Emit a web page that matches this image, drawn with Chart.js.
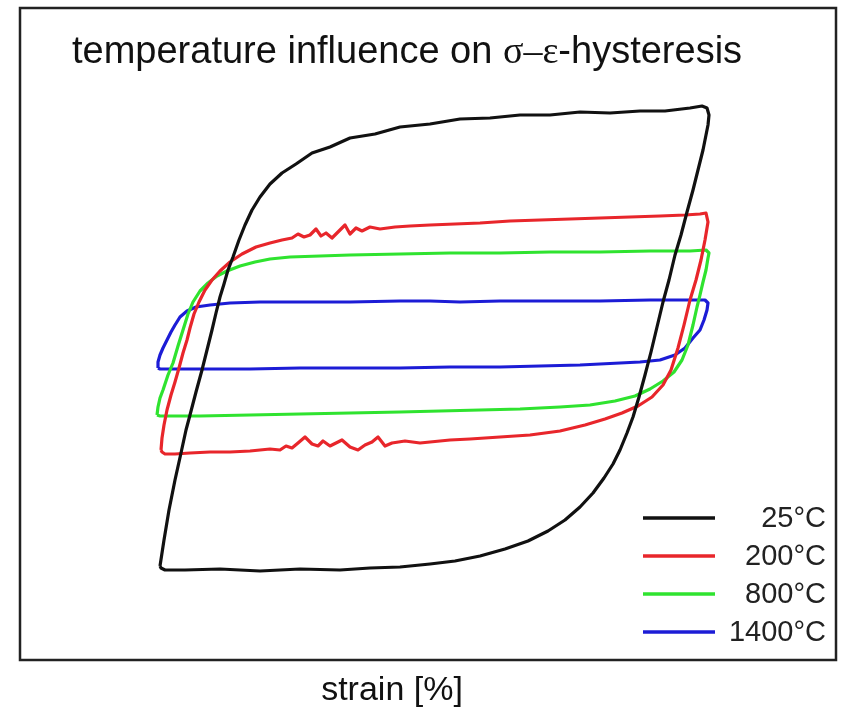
<!DOCTYPE html>
<html>
<head>
<meta charset="utf-8">
<script src="https://cdn.jsdelivr.net/npm/chart.js@4.4.1/dist/chart.umd.min.js"></script>
<style>
  html, body { margin: 0; padding: 0; background: #fff; }
  canvas { display: block; }
</style>
</head>
<body>
<canvas id="hysteresisChart" width="847" height="711"></canvas>
<script>
// series labels and colours
const temperatures = ['25°C', '200°C', '800°C', '1400°C'];
const colors = ['#111111', '#e8262b', '#2fe32f', '#1c1cd6'];

// strain [%] / stress [MPa], each loop in drawing order
const strain25 = [-0.536, -0.528, -0.518, -0.506, -0.494, -0.484, -0.476, -0.464, -0.452, -0.442, -0.432, -0.424, -0.416, -0.408, -0.400, -0.390, -0.378, -0.366, -0.352, -0.336, -0.316, -0.292, -0.264, -0.232, -0.196, -0.156, -0.106, -0.056, 0.004, 0.064, 0.124, 0.184, 0.244, 0.304, 0.364, 0.424, 0.474, 0.524, 0.548, 0.558, 0.562,
  0.560, 0.550, 0.540, 0.530, 0.518, 0.506, 0.494, 0.482, 0.470, 0.458, 0.446, 0.434, 0.422, 0.410, 0.398, 0.384, 0.370, 0.352, 0.330, 0.304, 0.274, 0.240, 0.200, 0.154, 0.104, 0.054, 0.004, -0.056, -0.116, -0.176, -0.256, -0.336, -0.416, -0.486, -0.526, -0.534, -0.536];
const stress25 = [-232, -206, -176, -146, -119, -96, -81, -58, -36, -16, 4, 21, 37, 50, 64, 77, 94, 109, 124, 137, 150, 161, 170, 181, 187, 196, 200, 207, 210, 215, 216, 219, 219, 222, 221, 223, 223, 226, 228, 226, 219,
  209, 184, 164, 144, 122, 99, 79, 54, 32, 7, -18, -41, -63, -83, -99, -116, -130, -144, -159, -173, -186, -197, -207, -215, -222, -227, -230, -233, -234, -236, -235, -237, -235, -236, -236, -234, -232];

const strain200 = [-0.534, -0.532, -0.528, -0.522, -0.514, -0.506, -0.498, -0.490, -0.482, -0.476, -0.468, -0.458, -0.446, -0.432, -0.416, -0.396, -0.372, -0.344, -0.316, -0.292, -0.272, -0.260, -0.248, -0.236, -0.224, -0.214, -0.204, -0.192, -0.180, -0.166, -0.156, -0.144, -0.132, -0.116, -0.096, -0.066, -0.036, 0.004, 0.054, 0.104, 0.164, 0.224, 0.284, 0.344, 0.404, 0.464, 0.514, 0.544, 0.556,
  0.560, 0.554, 0.546, 0.536, 0.524, 0.512, 0.500, 0.486, 0.470, 0.448, 0.420, 0.388, 0.354, 0.314, 0.264, 0.204, 0.144, 0.084, 0.044, 0.004, -0.016, -0.046, -0.072, -0.086, -0.100, -0.112, -0.126, -0.140, -0.156, -0.172, -0.184, -0.196, -0.210, -0.220, -0.232, -0.246, -0.260, -0.272, -0.284, -0.296, -0.316, -0.356, -0.396, -0.436, -0.476, -0.506, -0.526, -0.532, -0.534];
const stress200 = [-116, -104, -91, -76, -61, -48, -34, -19, -6, 6, 20, 32, 44, 54, 63, 72, 80, 87, 91, 94, 96, 100, 97, 99, 105, 98, 101, 96, 102, 109, 100, 106, 103, 107, 105, 107, 108, 109, 110, 111, 113, 114, 115, 116, 117, 118, 119, 120, 121,
  112, 94, 74, 54, 34, 9, -14, -36, -51, -63, -72, -79, -85, -91, -97, -101, -103, -105, -106, -108, -109, -107, -109, -112, -103, -108, -111, -116, -113, -106, -109, -112, -107, -112, -110, -103, -109, -114, -112, -116, -115, -117, -118, -118, -119, -120, -120, -118, -116];

const strain800 = [-0.542, -0.540, -0.536, -0.530, -0.520, -0.510, -0.500, -0.490, -0.480, -0.470, -0.456, -0.440, -0.422, -0.402, -0.376, -0.346, -0.316, -0.276, -0.216, -0.156, -0.056, 0.044, 0.144, 0.244, 0.344, 0.444, 0.524, 0.556, 0.562,
  0.560, 0.556, 0.550, 0.544, 0.538, 0.530, 0.520, 0.508, 0.492, 0.470, 0.444, 0.414, 0.374, 0.324, 0.264, 0.184, 0.104, 0.024, -0.056, -0.156, -0.256, -0.356, -0.456, -0.516, -0.536, -0.542];
const stress800 = [-81, -73, -64, -56, -41, -29, -12, 4, 20, 32, 43, 51, 58, 63, 68, 72, 75, 77, 78, 79, 80, 81, 81, 82, 82, 83, 83, 84, 81,
  76, 64, 52, 39, 27, 9, -11, -26, -38, -47, -55, -62, -67, -71, -73, -75, -76, -77, -78, -79, -80, -81, -82, -82, -82, -81];

const strain1400 = [-0.540, -0.540, -0.536, -0.530, -0.522, -0.514, -0.506, -0.496, -0.482, -0.464, -0.436, -0.396, -0.336, -0.256, -0.156, -0.056, 0.004, 0.064, 0.144, 0.244, 0.344, 0.444, 0.524, 0.554, 0.560,
  0.558, 0.552, 0.544, 0.530, 0.514, 0.494, 0.464, 0.424, 0.384, 0.304, 0.224, 0.144, 0.044, -0.056, -0.156, -0.256, -0.356, -0.456, -0.516, -0.536, -0.540];
const stress1400 = [-34, -28, -21, -14, -6, 2, 9, 17, 23, 27, 29, 31, 32, 32, 32, 33, 33, 32, 33, 33, 33, 34, 34, 34, 31,
  24, 14, 4, -4, -14, -21, -26, -28, -29, -31, -32, -33, -33, -34, -34, -34, -35, -35, -35, -35, -34];

const strainSeries = [strain25, strain200, strain800, strain1400];
const stressSeries = [stress25, stress200, stress800, stress1400];

const TITLE_PARTS = [
  { text: 'temperature influence on ', font: '38px "Liberation Sans", Arial, sans-serif' },
  { text: 'σ–ε', font: '38px "Liberation Serif", "Times New Roman", serif' },
  { text: '-hysteresis', font: '38px "Liberation Sans", Arial, sans-serif' },
];
const X_LABEL = 'strain [%]';

// frame, title inside the frame, axis label below it and legend in the lower right corner
const framePlugin = {
  id: 'framePlugin',
  afterDraw(chart) {
    const { ctx, chartArea: a } = chart;
    ctx.save();

    ctx.strokeStyle = '#222';
    ctx.lineWidth = 2.5;
    ctx.strokeRect(a.left, a.top, a.right - a.left, a.bottom - a.top);

    ctx.fillStyle = '#111';
    ctx.textBaseline = 'alphabetic';
    ctx.textAlign = 'left';
    let x = a.left + 52;
    TITLE_PARTS.forEach((p) => {
      ctx.font = p.font;
      ctx.fillText(p.text, x, a.top + 55);
      x += ctx.measureText(p.text).width;
    });

    ctx.font = '34px "Liberation Sans", Arial, sans-serif';
    ctx.textAlign = 'center';
    ctx.fillText(X_LABEL, a.left + 372, a.bottom + 40);

    ctx.font = '29px "Liberation Sans", Arial, sans-serif';
    ctx.textAlign = 'right';
    ctx.textBaseline = 'middle';
    chart.data.datasets.forEach((ds, i) => {
      const y = a.bottom - 142 + i * 38;
      ctx.strokeStyle = ds.borderColor;
      ctx.lineWidth = 3.5;
      ctx.beginPath();
      ctx.moveTo(a.right - 193, y);
      ctx.lineTo(a.right - 121, y);
      ctx.stroke();
      ctx.fillStyle = '#222';
      ctx.fillText(ds.label, a.right - 10, y + 1);
    });

    ctx.restore();
  },
};

const ctx = document.getElementById('hysteresisChart');
new Chart(ctx, {
  type: 'scatter',
  data: {
    datasets: temperatures.map((label, i) => ({
      label,
      data: strainSeries[i].map((s, j) => ({ x: s, y: stressSeries[i][j] })),
      showLine: true,
      borderColor: colors[i],
      borderWidth: 3.2,
      borderJoinStyle: 'round',
      pointRadius: 0,
      tension: 0,
      fill: false,
    })),
  },
  options: {
    responsive: false,
    animation: false,
    layout: { padding: { left: 20, top: 8, right: 11, bottom: 51 } },
    plugins: {
      legend: { display: false },
      tooltip: { enabled: false },
    },
    scales: {
      x: { type: 'linear', display: false, min: -0.816, max: 0.816 },
      y: { type: 'linear', display: false, min: -326, max: 326 },
    },
  },
  plugins: [framePlugin],
});
</script>
</body>
</html>
